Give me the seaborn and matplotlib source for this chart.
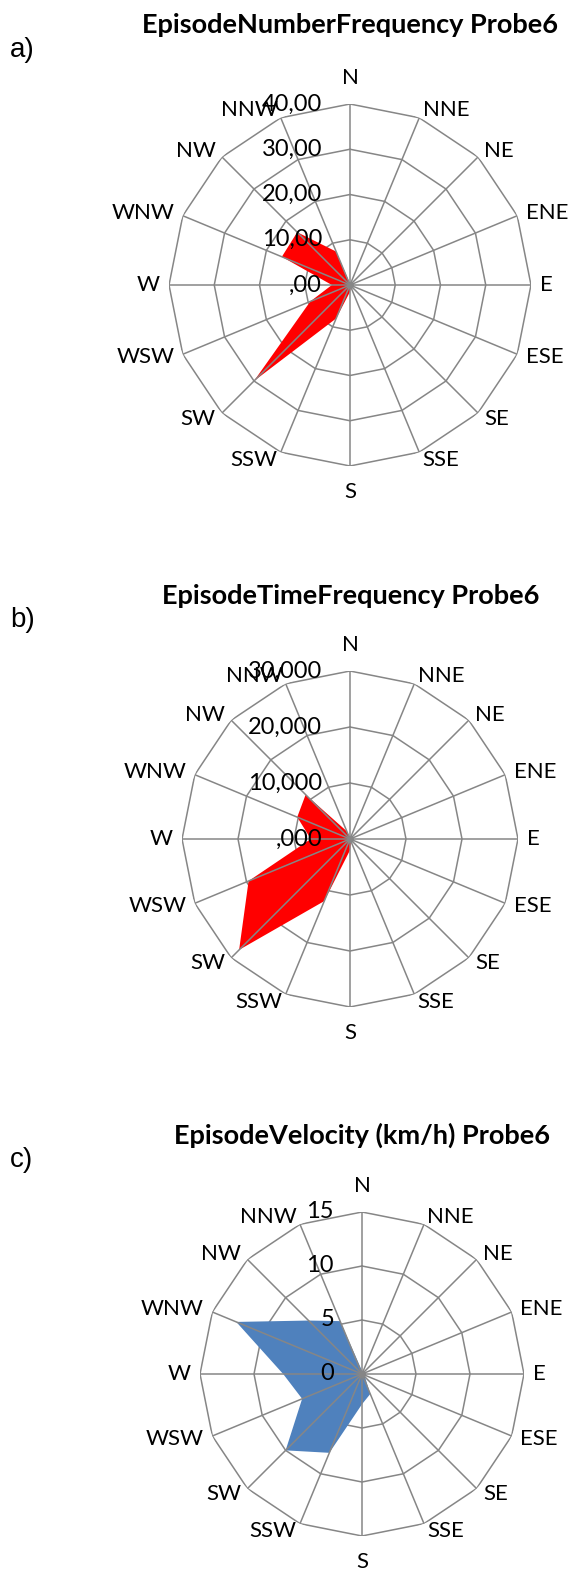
import numpy as np
import matplotlib
matplotlib.use("Agg")
import matplotlib.pyplot as plt
import seaborn as sns

# --- data (16 wind directions, clockwise from N) ---
directions = ["N", "NNE", "NE", "ENE", "E", "ESE", "SE", "SSE",
              "S", "SSW", "SW", "WSW", "W", "WNW", "NW", "NNW"]

number_freq = [0.3, 0.2, 0.2, 0.2, 0.2, 0.2, 0.3, 0.5,
               1.5, 8.0, 30.0, 9.5, 4.0, 16.3, 16.5, 8.0]
time_freq = [0.3, 0.3, 0.3, 0.3, 0.3, 0.3, 0.3, 0.5,
             2.0, 12.0, 28.0, 19.6, 7.0, 10.2, 11.2, 1.5]
velocity = [0.3, 0.3, 0.3, 0.3, 0.3, 0.3, 0.4, 2.0,
            2.8, 7.9, 10.0, 6.0, 7.3, 12.6, 7.0, 5.3]

number_ticks = [0, 10, 20, 30, 40]
number_tick_labels = [",00", "10,00", "20,00", "30,00", "40,00"]
time_ticks = [0, 10, 20, 30]
time_tick_labels = [",000", "10,000", "20,000", "30,000"]
velocity_ticks = [0, 5, 10, 15]
velocity_tick_labels = ["0", "5", "10", "15"]

titles = ["EpisodeNumberFrequency Probe6",
          "EpisodeTimeFrequency Probe6",
          "EpisodeVelocity (km/h) Probe6"]
panel_letters = ["a)", "b)", "c)"]

sns.set_theme(style="white")
plt.rcParams["font.family"] = ["Lato", "DejaVu Sans"]

W, H = 576, 1569
GRID = "#868686"

fig = plt.figure(figsize=(W / 100, H / 100), dpi=100)
fig.patch.set_facecolor("white")


def radar(cx, cy, R, values, ticks, tick_labels, color):
    ax = fig.add_axes([(cx - R) / W, 1 - (cy + R) / H, 2 * R / W, 2 * R / H],
                      projection="polar")
    theta = np.deg2rad(np.arange(len(directions)) * 22.5)
    closed = np.append(theta, theta[0])
    rmax = ticks[-1]
    ax.set_theta_zero_location("N")
    ax.set_theta_direction(-1)
    ax.set_ylim(0, rmax)
    ax.grid(False)
    ax.spines["polar"].set_visible(False)
    ax.set_xticks([])
    ax.set_yticks([])
    ax.patch.set_visible(False)

    # rings behind the fill, spokes on top (Excel filled radar)
    for t in ticks[1:]:
        ax.plot(closed, np.full(len(closed), t), color=GRID, lw=1.1, zorder=1)
    ax.fill(closed, np.append(values, values[0]), color=color, lw=0, zorder=2)
    for th in theta:
        ax.plot([th, th], [0, rmax], color=GRID, lw=1.1, zorder=3)
    ax.plot([0], [0], "o", color=GRID, ms=4, zorder=3)

    for t, lab in zip(ticks, tick_labels):
        ax.annotate(lab, xy=(0, t), xytext=(-28, 0), textcoords="offset pixels",
                    ha="right", va="center", fontsize=17, color="black",
                    zorder=5, annotation_clip=False)

    for th, lab in zip(theta, directions):
        s, c = np.sin(th), np.cos(th)
        if abs(s) < 0.1:
            ha, dx, dy = "center", 0, 26 * c
        else:
            ha = "left" if s > 0 else "right"
            dx, dy = 9 * s, 8 * c
        ax.annotate(lab, xy=(th, rmax), xytext=(dx, dy), textcoords="offset pixels",
                    ha=ha, va="center", fontsize=16, color="black",
                    annotation_clip=False)
    return ax


panels = [(350, 285, 181, number_freq, number_ticks, number_tick_labels, "#FF0000"),
          (350, 839, 168, time_freq, time_ticks, time_tick_labels, "#FF0000"),
          (362, 1374, 162, velocity, velocity_ticks, velocity_tick_labels, "#4F81BD")]
title_pos = [(350, 25), (351, 596), (362, 1135)]
letter_pos = [(10, 50), (10, 620), (10, 1160)]

for (cx, cy, R, vals, tks, tlabs, col), title, (tx, ty), letter, (lx, ly) in zip(
        panels, titles, title_pos, panel_letters, letter_pos):
    radar(cx, cy, R, vals, tks, tlabs, col)
    fig.text(tx / W, 1 - ty / H, title, ha="center", va="center",
             fontsize=19.5, fontweight="bold", color="black")
    fig.text(lx / W, 1 - ly / H, letter, ha="left", va="center",
             fontsize=20, family=["Liberation Sans", "DejaVu Sans"], color="black")

fig.savefig("out.png", dpi=100, facecolor="white")
